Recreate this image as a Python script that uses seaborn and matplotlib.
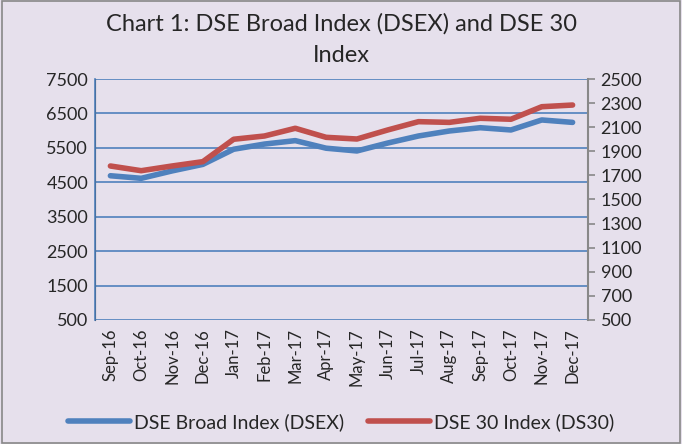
import pandas as pd
import matplotlib.pyplot as plt
import seaborn as sns
from matplotlib.patches import Rectangle

# Month labels
months = ["Sep-16", "Oct-16", "Nov-16", "Dec-16", "Jan-17", "Feb-17", "Mar-17", "Apr-17",
          "May-17", "Jun-17", "Jul-17", "Aug-17", "Sep-17", "Oct-17", "Nov-17", "Dec-17"]
# DSEX (left axis)
dsex = [4690, 4615, 4830, 5020, 5460, 5610, 5710, 5490,
        5410, 5640, 5845, 5990, 6085, 6020, 6310, 6240]
# DS30 (right axis)
ds30 = [1778, 1739, 1778, 1814, 2000, 2027, 2091, 2016,
        2002, 2077, 2146, 2140, 2174, 2166, 2270, 2284]

df = pd.DataFrame({"Month": months, "DSEX": dsex, "DS30": ds30})

bg = "#E6E0EC"
blue = "#4F81BD"
red = "#C0504D"

sns.set_style("white")
plt.rcParams["font.family"] = ["Lato", "DejaVu Sans"]

fig = plt.figure(figsize=(6.82, 4.44), dpi=100)
fig.patch.set_facecolor(bg)
fig.patches.append(Rectangle((0.003, 0.003), 0.994, 0.994, transform=fig.transFigure,
                             fill=False, edgecolor="#888888", linewidth=1.2))

ax = fig.add_axes([95 / 682, 1 - 320 / 444, (588 - 95) / 682, (320 - 79) / 444])
ax.set_facecolor(bg)
ax2 = ax.twinx()

sns.lineplot(data=df, x="Month", y="DSEX", ax=ax, color=blue, linewidth=4,
             sort=False, label="DSE Broad Index (DSEX)", legend=False)
sns.lineplot(data=df, x="Month", y="DS30", ax=ax2, color=red, linewidth=4,
             sort=False, label="DSE 30 Index (DS30)", legend=False)

ax.set_ylim(500, 7500)
ax.set_yticks(range(500, 7501, 1000))
ax2.set_ylim(500, 2500)
ax2.set_yticks(range(500, 2501, 200))
ax.set_xlim(-0.5, len(months) - 0.5)

ax.grid(axis="y", color=blue, linewidth=1.2)
ax.set_axisbelow(True)
ax.set_xlabel("")
ax.set_ylabel("")
ax2.set_ylabel("")

for s in ["top", "bottom"]:
    ax.spines[s].set_visible(False)
    ax2.spines[s].set_visible(False)
ax.spines["right"].set_visible(False)
ax2.spines["left"].set_color(blue)
ax2.spines["left"].set_linewidth(1.2)
ax2.spines["right"].set_color("#888888")
ax2.spines["right"].set_linewidth(1.5)

ax.tick_params(axis="y", length=0, labelsize=13, pad=5)
ax.tick_params(axis="x", length=0, labelsize=12, rotation=90, pad=6)
ax2.tick_params(axis="y", length=5, color="#888888", width=1.2, labelsize=13, pad=4)

fig.suptitle("Chart 1: DSE Broad Index (DSEX) and DSE 30\nIndex", y=0.97, fontsize=17,
             linespacing=1.6)

h1, l1 = ax.get_legend_handles_labels()
h2, l2 = ax2.get_legend_handles_labels()
fig.legend(h1 + h2, l1 + l2, loc="lower center", bbox_to_anchor=(0.5, -0.01), ncol=2,
           frameon=False, fontsize=14, handlelength=3.2, columnspacing=1.2,
           handletextpad=0.2)

fig.savefig("out.png", dpi=100, facecolor=bg)
